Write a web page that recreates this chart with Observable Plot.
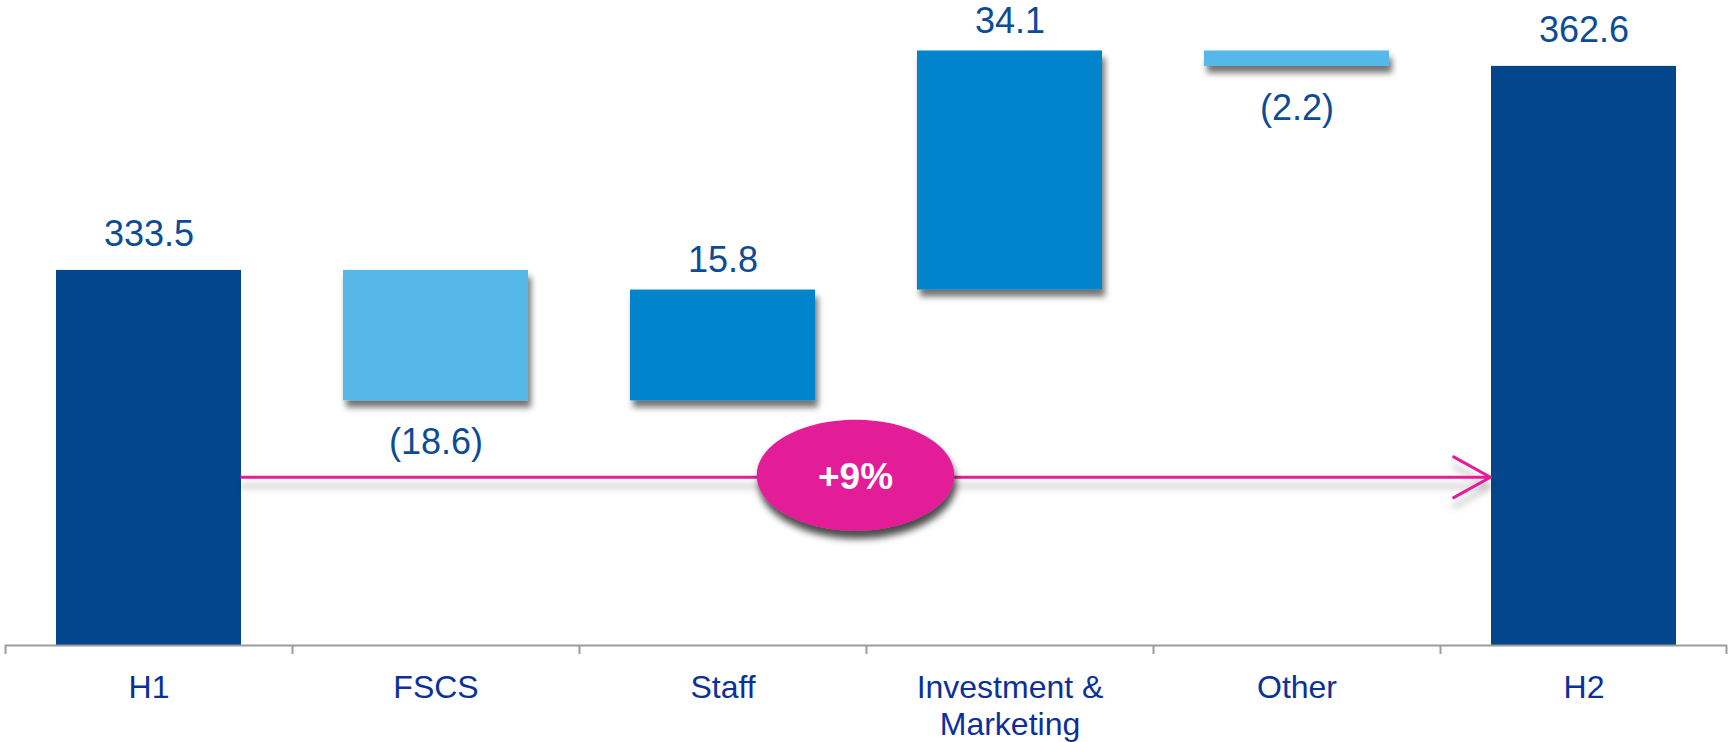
<!DOCTYPE html>
<html>
<head>
<meta charset="utf-8">
<script src="https://cdn.jsdelivr.net/npm/d3@7"></script>
<script src="https://cdn.jsdelivr.net/npm/@observablehq/plot@0.6"></script>
<style>
  html, body { margin: 0; padding: 0; background: #fff; }
  #chart { width: 1732px; height: 742px; }
</style>
</head>
<body>
<div id="chart"></div>
<script>
// ---- data ----
const categories = ["H1", "FSCS", "Staff", "Investment & Marketing", "Other", "H2"];
const tickLabels = ["H1", "FSCS", "Staff", "Investment &\nMarketing", "Other", "H2"];
const values = [333.5, -18.6, 15.8, 34.1, -2.2, 362.6];
const kinds = ["total", "delta", "delta", "delta", "delta", "total"];
const valueLabels = ["333.5", "(18.6)", "15.8", "34.1", "(2.2)", "362.6"];
const growthLabel = "+9%";
const yBase = 280;
const yTop = 370;
const arrowLevel = 304;

// ---- layout / style ----
const W = 1732, H = 742;
const mL = 5, mR = 5, mT = 14, mB = 97;
const pInner = 0.355, pOuter = pInner / 2;
const step = (W - mL - mR) / categories.length;
const bw = step * (1 - pInner);
const colTotal = "#03468C", colUp = "#0084CC", colDown = "#55B8E8";
const pink = "#E31C98";
const valueColor = "#0C4C95";
const catColor = "#0B309A";

let run = 0;
const rows = categories.map((c, i) => {
  let y1, y2;
  if (kinds[i] === "total") { y1 = yBase; y2 = values[i]; run = values[i]; }
  else { y1 = run; y2 = run + values[i]; run = y2; }
  return {
    cat: c, tick: tickLabels[i], y1, y2,
    top: Math.max(y1, y2), bottom: Math.min(y1, y2),
    label: valueLabels[i], kind: kinds[i], value: values[i],
    color: kinds[i] === "total" ? colTotal : values[i] >= 0 ? colUp : colDown
  };
});
const totals = rows.filter(d => d.kind === "total");
const deltas = rows.filter(d => d.kind === "delta");
const aboveTotals = rows.filter(d => d.kind === "total");
const aboveDeltas = rows.filter(d => d.kind === "delta" && d.value >= 0);
const below = rows.filter(d => d.kind === "delta" && d.value < 0);

const ellipseSymbol = {
  draw(ctx, size) {
    const ry = Math.sqrt(size / Math.PI), rx = ry * 1.78, k = 0.5523;
    ctx.moveTo(rx, 0);
    ctx.bezierCurveTo(rx, k * ry, k * rx, ry, 0, ry);
    ctx.bezierCurveTo(-k * rx, ry, -rx, k * ry, -rx, 0);
    ctx.bezierCurveTo(-rx, -k * ry, -k * rx, -ry, 0, -ry);
    ctx.bezierCurveTo(k * rx, -ry, rx, -k * ry, rx, 0);
    ctx.closePath();
  }
};

const svg = Plot.plot({
  width: W, height: H,
  marginLeft: mL, marginRight: mR, marginTop: mT, marginBottom: mB,
  x: { domain: categories, paddingInner: pInner, paddingOuter: pOuter, axis: null },
  y: { domain: [yBase, yTop], axis: null },
  color: { type: "identity" },
  style: { fontFamily: "'Liberation Sans', Arial, sans-serif", background: "#fff", overflow: "visible" },
  marks: [
    Plot.barY(totals, { x: "cat", y1: "y1", y2: "y2", fill: "color" }),
    Plot.barY(deltas, { x: "cat", y1: "y1", y2: "y2", fill: "color", ariaDescription: "floating", className: "floating" }),
    Plot.ruleY([yBase], { stroke: "#9c9c9c", strokeWidth: 2 }),
    Plot.ruleX(categories, { x: d => d, y1: yBase, y2: yBase, dx: -step / 2, insetBottom: -9, stroke: "#9c9c9c", strokeWidth: 2 }),
    Plot.ruleX([categories[categories.length - 1]], { x: d => d, y1: yBase, y2: yBase, dx: step / 2 - 1, insetBottom: -9, stroke: "#9c9c9c", strokeWidth: 2 }),
    Plot.arrow([{ a: categories[0], b: categories[categories.length - 1], y: arrowLevel }], {
      x1: "a", x2: "b", y1: "y", y2: "y", bend: 0,
      insetStart: bw / 2, insetEnd: bw / 2 + 1,
      headLength: 21, headAngle: 58,
      stroke: pink, strokeWidth: 3, ariaDescription: "growth-arrow", className: "growth-arrow"
    }),
    Plot.dot([{ x: categories[2], y: arrowLevel }], {
      x: "x", y: "y", dx: step / 2 - 11, dy: -2, r: 55.5, symbol: ellipseSymbol,
      fill: pink, stroke: "none", ariaDescription: "growth-badge", className: "growth-badge"
    }),
    Plot.text([{ x: categories[2], y: arrowLevel, t: growthLabel }], {
      x: "x", y: "y", text: "t", dx: step / 2 - 11, dy: 0,
      fill: "#fff", fontWeight: "bold", fontSize: 37, lineAnchor: "middle"
    }),
    Plot.text(aboveTotals, { x: "cat", y: "top", text: "label", lineAnchor: "bottom", dy: -24, fontSize: 36, fill: valueColor }),
    Plot.text(aboveDeltas, { x: "cat", y: "top", text: "label", lineAnchor: "bottom", dy: -18, fontSize: 36, fill: valueColor }),
    Plot.text(below, { x: "cat", y: "bottom", text: "label", lineAnchor: "top", dy: 28, fontSize: 36, fill: valueColor }),
    Plot.text(rows, { x: "cat", y: () => yBase, text: "tick", lineAnchor: "top", dy: 26, fontSize: 32, lineHeight: 1.16, fill: catColor })
  ]
});

// drop shadows (decorative)
const NS = "http://www.w3.org/2000/svg";
const defs = document.createElementNS(NS, "defs");
svg.insertBefore(defs, svg.firstChild);
function shadow(id, dx, dy, sd, op) {
  const f = document.createElementNS(NS, "filter");
  f.setAttribute("id", id);
  f.setAttribute("filterUnits", "userSpaceOnUse");
  f.setAttribute("x", "-50"); f.setAttribute("y", "-50");
  f.setAttribute("width", String(W + 100)); f.setAttribute("height", String(H + 100));
  f.innerHTML = `<feDropShadow dx="${dx}" dy="${dy}" stdDeviation="${sd}" flood-color="#000" flood-opacity="${op}"/>`;
  defs.appendChild(f);
}
shadow("shBar", 3, 7, 3, 0.55);
shadow("shLine", 0, 9, 3.5, 0.3);
shadow("shBadge", 2, 8, 3.5, 0.7);
function applyFilter(label, id) {
  svg.querySelectorAll("g").forEach(g => {
    if (g.getAttribute("aria-description") === label || g.classList.contains(label)) g.setAttribute("filter", `url(#${id})`);
  });
}
applyFilter("floating", "shBar");
applyFilter("growth-arrow", "shLine");
applyFilter("growth-badge", "shBadge");

document.getElementById("chart").appendChild(svg);
</script>
</body>
</html>
